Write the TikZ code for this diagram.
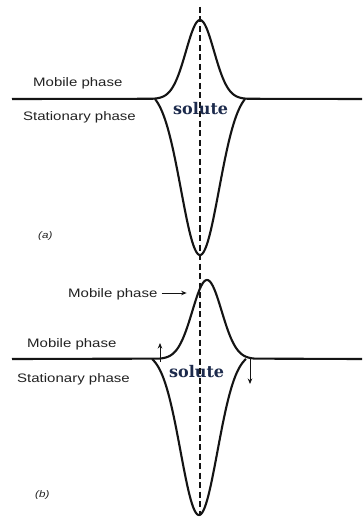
\documentclass[tikz,border=0pt]{standalone}
\usepackage{fontspec}
\newfontfamily\labfont[FakeStretch=1.22]{Liberation Sans}
\newfontfamily\solfont{DejaVu Serif}
\usetikzlibrary{arrows.meta}
\definecolor{ink}{HTML}{141414}
\definecolor{txt}{HTML}{222222}
\definecolor{solc}{HTML}{1C2A4C}
\begin{document}
\begin{tikzpicture}[x=1pt,y=-1pt,
  curve/.style={draw=ink,line width=2.1pt,line join=round},
  axis/.style={draw=ink,line width=1.1pt,dash pattern=on 6pt off 3.5pt},
  lab/.style={text=txt,font=\labfont\fontsize{12.3}{14}\selectfont,inner sep=0pt,anchor=base west},
  tag/.style={text=txt,font=\labfont\itshape\fontsize{9.5}{11}\selectfont,inner sep=0pt,anchor=base west},
  sol/.style={text=solc,font=\solfont\bfseries\fontsize{16}{18}\selectfont,inner sep=0pt,anchor=base west},
  flow/.style={draw=ink,line width=1pt,-{Stealth[length=5.5pt,width=4.5pt]}}]
\useasboundingbox (0,0) rectangle (362,518);
\fill[white] (0,0) rectangle (362,518);
% central dashed axis
\coordinate (axtop) at (200,7);
\coordinate (axbot) at (200,515);
\draw[axis] (axtop) -- (axbot);
% (a)
\draw[curve] (12,99) -- plot[domain=-48:48,samples=97,smooth] ({200+\x},{99-79*exp(-\x*\x/392)}) -- (362,99);
\draw[curve] plot[domain=-45:45,samples=91,smooth] ({200+\x},{99+156*(exp(-\x*\x/722)-0.0605)/0.9395});
\node[lab] (mpa) at (33,87) {Mobile phase};
\node[lab] (spa) at (23,121) {Stationary phase};
\node[sol] (sola) at (173,115) {solute};
\node[tag] (taga) at (38,238) {(a)};
% (b)
\draw[curve] (12,359) -- plot[domain=-48:48,samples=97,smooth] ({207+\x},{359-79*exp(-\x*\x/430)}) -- (362,359);
\draw[curve] plot[domain=-47:47,samples=95,smooth] ({199+\x},{359+156*(exp(-\x*\x/684.5)-0.0397)/0.9603});
\node[lab] (mpb) at (27,347) {Mobile phase};
\node[lab] (spb) at (17,382) {Stationary phase};
\node[lab] (mpc) at (68,297) {Mobile phase};
\node[sol] (solb) at (169,377) {solute};
\node[tag] (tagb) at (35,497) {(b)};
\coordinate (mpstart) at ([xshift=4pt,yshift=4pt]mpc.base east);
\coordinate (mptip) at ([xshift=29pt,yshift=4pt]mpc.base east);
\draw[flow] (mpstart) -- (mptip);
\coordinate (upA) at (160,362);
\coordinate (upB) at (160,343);
\draw[flow] (upA) -- (upB);
\coordinate (dnA) at (250,357);
\coordinate (dnB) at (250,384);
\draw[flow] (dnA) -- (dnB);
\end{tikzpicture}
\end{document}
